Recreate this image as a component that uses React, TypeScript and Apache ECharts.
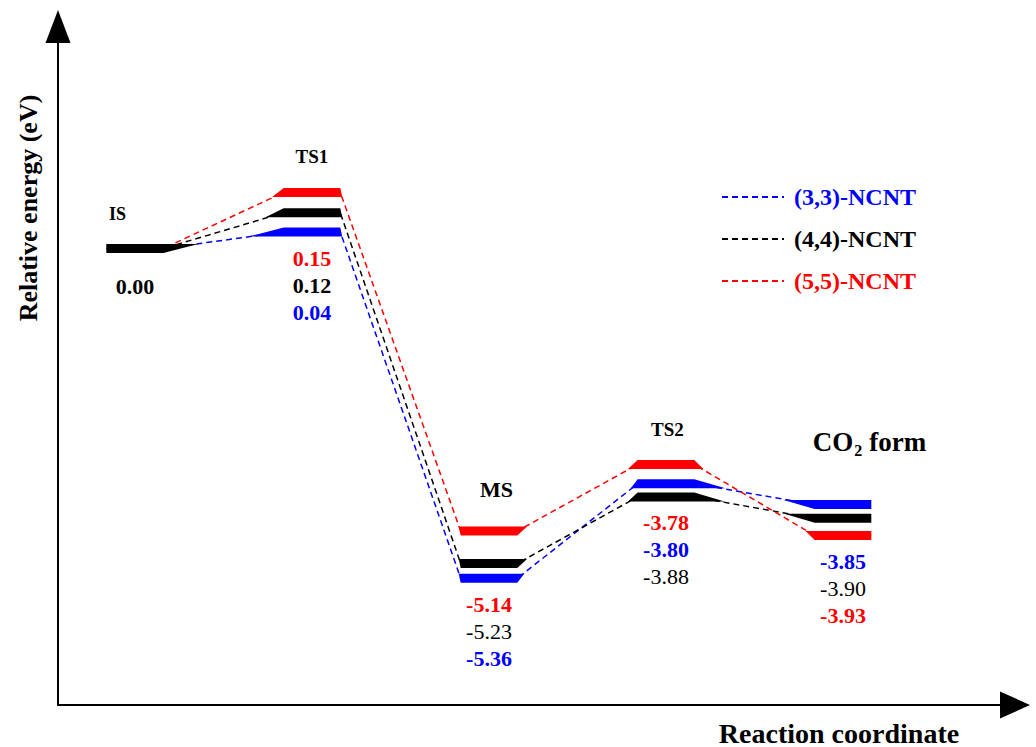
import React, { useEffect, useRef } from "react";
import * as echarts from "echarts";

// ---- data ----
const stateNames = ["IS", "TS1", "MS", "TS2", "CO2 form"];
const statePos = [1, 2, 3, 4, 5];
const seriesNames = ["(3,3)-NCNT", "(4,4)-NCNT", "(5,5)-NCNT"];
// Relative energies (eV) printed under each level
const energy33 = [0.0, 0.04, -5.36, -3.8, -3.85];
const energy44 = [0.0, 0.12, -5.23, -3.88, -3.9];
const energy55 = [0.0, 0.15, -5.14, -3.78, -3.93];
// Heights at which the levels are drawn on the schematic (untick-marked) energy axis
const level33 = [0.0, 0.3, -6.0, -4.28, -4.66];
const level44 = [0.0, 0.65, -5.73, -4.52, -4.91];
const level55 = [0.0, 1.02, -5.14, -3.93, -5.22];

const energies = [energy33, energy44, energy55];
const levels = [level33, level44, level55];

// ---- styles ----
const seriesColors = ["#0000ff", "#000000", "#ff0000"];
const FONT = "'Liberation Serif', 'Times New Roman', serif";
const HALF = 0.16; // half width of a level bar (x units)
const THICK = 9; // bar thickness (px)
const nameOffsets = [
  [-17.5, -34.5],
  [0, -36],
  [7.5, -41],
  [1.5, -35],
  [26.5, -61.5],
];
const nameSizes = [18, 19, 22, 19, 27];

function barSeries(si: number) {
  const lv = levels[si];
  const en = energies[si];
  return {
    type: "custom",
    name: seriesNames[si] + " levels",
    z: 4,
    silent: true,
    clip: false,
    data: statePos.map((x, i) => [x, lv[i]]),
    encode: { x: 0, y: 1 },
    renderItem: (params: any, api: any) => {
      const i = params.dataIndex;
      const x = api.value(0) as number;
      const y = api.value(1) as number;
      const L = api.coord([x - HALF, y]);
      const R = api.coord([x + HALF, y]);
      const t = THICK / 2;
      let tl = L[0], bl = L[0], tr = R[0], br = R[0];
      const ext = (p: number[], q: number[]) =>
        Math.min(35, (0.6 * THICK * Math.abs(q[0] - p[0])) / Math.max(1, Math.abs(q[1] - p[1])));
      if (i > 0) {
        const q = api.coord([statePos[i - 1] + HALF, lv[i - 1]]);
        const e = ext(L, q);
        if (q[1] < L[1]) tl -= e;
        else bl -= e;
      }
      if (i < statePos.length - 1) {
        const q = api.coord([statePos[i + 1] - HALF, lv[i + 1]]);
        const e = ext(R, q);
        if (q[1] < R[1]) tr += e;
        else br += e;
      }
      const color = i === 0 ? "#000000" : seriesColors[si];
      const children: any[] = [
        {
          type: "polygon",
          shape: { points: [[tl, L[1] - t], [tr, R[1] - t], [br, R[1] + t], [bl, L[1] + t]] },
          style: { fill: color },
        },
      ];
      if (i > 0 || si === 1) {
        const lowest = Math.min(...levels.map((l) => l[i]));
        const base = api.coord([x, lowest])[1];
        const rank = energies.filter((e) => e[i] > en[i]).length;
        const ly = i === 0 ? base + 38.5 : base + 26 + rank * 27;
        const weight = si === 1 && i > 1 ? "normal" : "bold";
        children.push({
          type: "text",
          x: (L[0] + R[0]) / 2,
          y: ly,
          style: {
            text: en[i].toFixed(2),
            fill: color,
            font: `${weight} 22px ${FONT}`,
            align: "center",
            verticalAlign: "middle",
          },
        });
      }
      return { type: "group", children };
    },
  };
}

function lineSeries(si: number) {
  const lv = levels[si];
  const pts: number[][] = [];
  statePos.forEach((x, i) => {
    pts.push([x - HALF, lv[i]]);
    pts.push([x + HALF, lv[i]]);
  });
  return {
    type: "line",
    name: seriesNames[si],
    z: 2,
    silent: true,
    symbol: "none",
    showSymbol: false,
    data: pts,
    lineStyle: { color: seriesColors[si], width: 1.5, type: [6, 4] },
    itemStyle: { color: seriesColors[si] },
  };
}

const nameSeries = {
  type: "custom",
  name: "states",
  z: 5,
  silent: true,
  clip: false,
  data: statePos.map((x, i) => [x, Math.max(...levels.map((l) => l[i]))]),
  encode: { x: 0, y: 1 },
  renderItem: (params: any, api: any) => {
    const i = params.dataIndex;
    const p = api.coord([api.value(0), api.value(1)]);
    const off = nameOffsets[i];
    const size = nameSizes[i];
    if (i === 4) {
      return {
        type: "text",
        x: p[0] + off[0],
        y: p[1] + off[1],
        style: {
          text: "{a|CO}{b|2}{a|form}",
          align: "center",
          verticalAlign: "middle",
          rich: {
            a: { font: `bold ${size}px ${FONT}`, fill: "#000", lineHeight: 27, verticalAlign: "top" },
            b: {
              font: `bold 16px ${FONT}`,
              fill: "#000",
              lineHeight: 30,
              verticalAlign: "bottom",
              padding: [0, 7, 0, 1],
            },
          },
        },
      };
    }
    return {
      type: "text",
      x: p[0] + off[0],
      y: p[1] + off[1],
      style: {
        text: stateNames[i],
        fill: "#000",
        font: `bold ${size}px ${FONT}`,
        align: "center",
        verticalAlign: "middle",
      },
    };
  },
};

export default function App() {
  const ref = useRef<HTMLDivElement>(null);
  useEffect(() => {
    if (!ref.current) return;
    const chart = echarts.init(ref.current, undefined, { renderer: "svg" });
    const axisCommon = {
      type: "value",
      axisTick: { show: false },
      axisLabel: { show: false },
      splitLine: { show: false },
    };
    chart.setOption({
      animation: false,
      backgroundColor: "#ffffff",
      grid: { left: 58, right: 21, top: 26.5, bottom: 42, containLabel: false },
      xAxis: {
        ...axisCommon,
        min: 0.565,
        max: 5.972,
        axisLine: {
          show: true,
          onZero: false,
          symbol: ["none", "triangle"],
          symbolSize: [27, 30],
          lineStyle: { color: "#000", width: 2 },
        },
      },
      yAxis: {
        ...axisCommon,
        min: -8.306,
        max: 4.039,
        axisLine: {
          show: true,
          onZero: false,
          symbol: ["none", "triangle"],
          symbolSize: [25, 33],
          lineStyle: { color: "#000", width: 2 },
        },
      },
      legend: {
        orient: "vertical",
        left: 716,
        top: 180,
        itemWidth: 62,
        itemHeight: 14,
        itemGap: 18,
        selectedMode: false,
        itemStyle: { opacity: 0 },
        data: seriesNames.map((n, i) => ({ name: n, textStyle: { color: seriesColors[i] } })),
        textStyle: { fontFamily: FONT, fontSize: 24, fontWeight: "bold", padding: [0, 0, 0, 5] },
      },
      graphic: [
        {
          type: "text",
          x: 28,
          y: 208,
          rotation: Math.PI / 2,
          style: {
            text: "Relative energy (eV)",
            fill: "#000",
            font: `bold 26px ${FONT}`,
            align: "center",
            verticalAlign: "middle",
          },
        },
        {
          type: "text",
          x: 839,
          y: 733,
          style: {
            text: "Reaction coordinate",
            fill: "#000",
            font: `bold 28px ${FONT}`,
            align: "center",
            verticalAlign: "middle",
          },
        },
      ],
      series: [0, 1, 2].map(lineSeries).concat([0, 1, 2].map(barSeries) as any).concat([nameSeries] as any),
    });
    return () => chart.dispose();
  }, []);
  return <div ref={ref} style={{ position: "absolute", left: 0, top: 0, width: 1036, height: 747 }} />;
}
